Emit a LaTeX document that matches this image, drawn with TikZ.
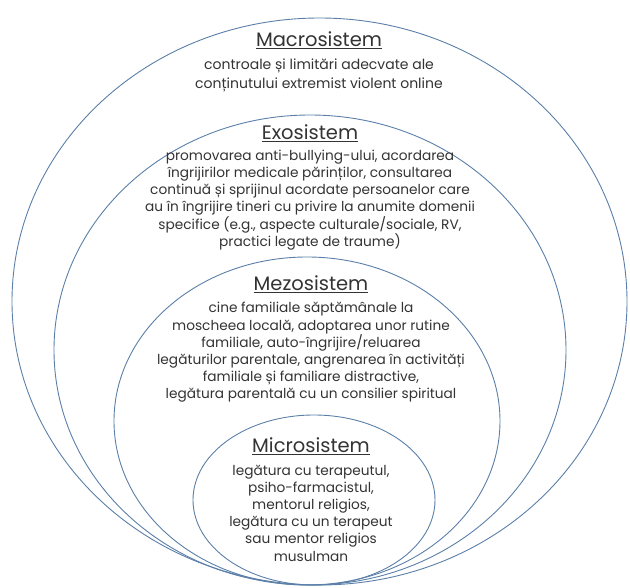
\documentclass[tikz,border=0pt]{standalone}
\usepackage{fontspec}
\setmainfont{Poppins}
\usetikzlibrary{positioning}
\definecolor{ringblue}{HTML}{5B7FA8}
\definecolor{textgray}{HTML}{333333}
\begin{document}
\begin{tikzpicture}[x=1pt, y=-1pt,
ring/.style={draw=ringblue, line width=0.9pt},
title/.style={font=\fontsize{19.5}{22}\selectfont, text=textgray, inner sep=0pt},
body/.style={font=\fontsize{13.7}{17.2}\selectfont, text=textgray, align=center, inner sep=0pt},
node distance=8pt,
]
\useasboundingbox (0,0) rectangle (630,588);
\draw[ring] (319.5,301.5) ellipse [x radius=307.5, y radius=283.5];
\draw[ring] (310,350) ellipse [x radius=256, y radius=235];
\draw[ring] (307,421) ellipse [x radius=193, y radius=164];
\draw[ring] (314,500) ellipse [x radius=121, y radius=85];

\node[title] (macro) at (319,40) {\underline{Macrosistem}};
\node[body, below=10pt of macro, font=\fontsize{14}{18.5}\selectfont] (macrotxt) {controale și limitări adecvate ale\\
conținutului extremist violent online};

\node[title] (exo) at (310,133) {\underline{Exosistem}};
\node[body, below=of exo] (exotxt) {promovarea anti-bullying-ului, acordarea\\
îngrijirilor medicale părinților, consultarea\\
continuă și sprijinul acordate persoanelor care\\
au în îngrijire tineri cu privire la anumite domenii\\
specifice (e.g., aspecte culturale/sociale, RV,\\
practici legate de traume)};

\node[title] (mezo) at (311,284) {\underline{Mezosistem}};
\node[body, below=9.5pt of mezo] (mezotxt) {cine familiale săptămânale la\\
moscheea locală, adoptarea unor rutine\\
familiale, auto-îngrijire/reluarea\\
legăturilor parentale, angrenarea în activități\\
familiale și familiare distractive,\\
legătura parentală cu un consilier spiritual};

\node[title] (micro) at (311,446) {\underline{Microsistem}};
\node[body, below=10pt of micro] (microtxt) {legătura cu terapeutul,\\
psiho-farmacistul,\\
mentorul religios,\\
legătura cu un terapeut\\
sau mentor religios\\
musulman};
\end{tikzpicture}
\end{document}
